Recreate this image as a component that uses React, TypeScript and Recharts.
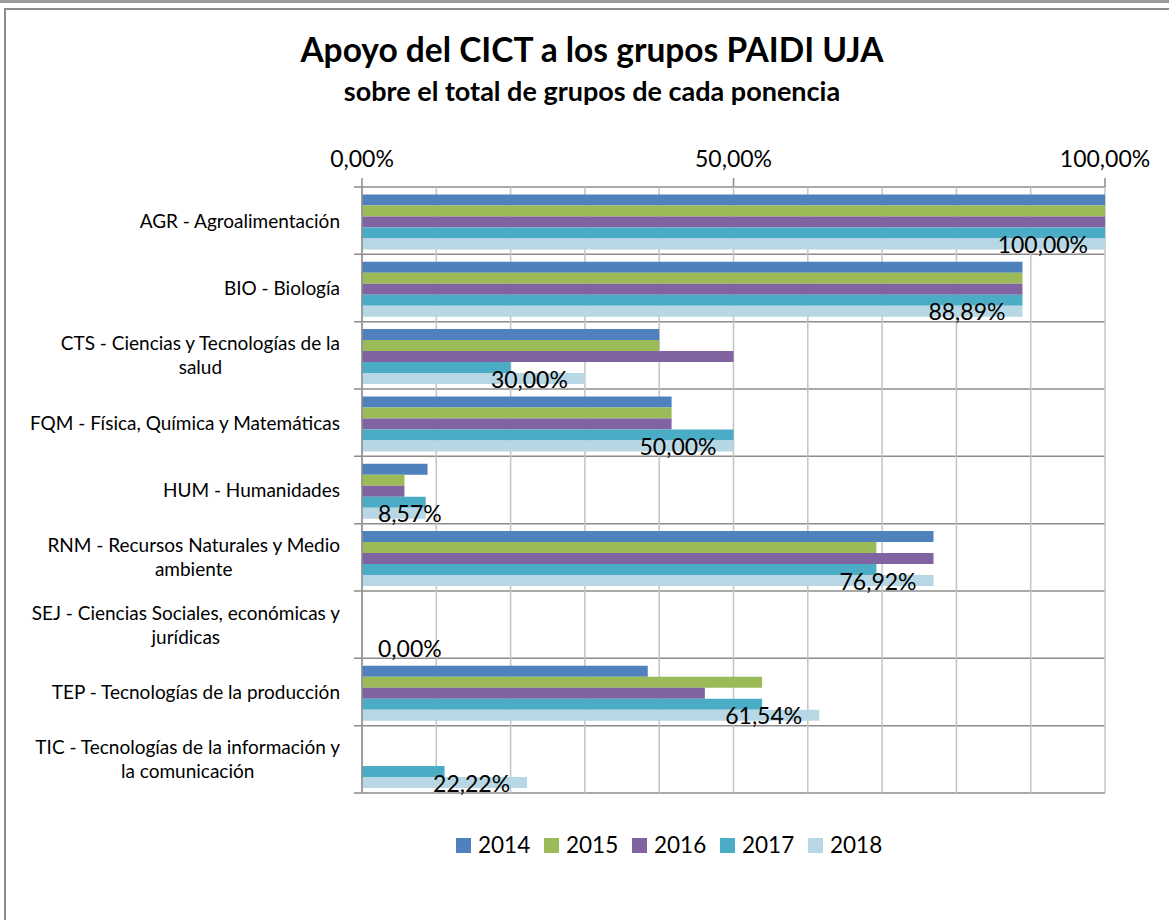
import { BarChart, Bar, XAxis, YAxis, CartesianGrid, LabelList } from 'recharts';

const categories = [
  'AGR - Agroalimentación',
  'BIO - Biología',
  'CTS - Ciencias y Tecnologías de la\nsalud',
  'FQM - Física, Química y Matemáticas',
  'HUM - Humanidades',
  'RNM - Recursos Naturales y Medio\nambiente',
  'SEJ - Ciencias Sociales, económicas y\njurídicas',
  'TEP - Tecnologías de la producción',
  'TIC - Tecnologías de la información y\nla comunicación',
];

const years = ['2014', '2015', '2016', '2017', '2018'];
const colors = ['#4F81BD', '#9BBB59', '#8064A2', '#4BACC6', '#B7D7E4'];

const v2014 = [1, 0.8889, 0.4, 0.4167, 0.0882, 0.7692, 0, 0.3846, 0];
const v2015 = [1, 0.8889, 0.4, 0.4167, 0.0571, 0.6923, 0, 0.5385, 0];
const v2016 = [1, 0.8889, 0.5, 0.4167, 0.0571, 0.7692, 0, 0.4615, 0];
const v2017 = [1, 0.8889, 0.2, 0.5, 0.0857, 0.6923, 0, 0.5385, 0.1111];
const v2018 = [1, 0.8889, 0.3, 0.5, 0.0857, 0.7692, 0, 0.6154, 0.2222];

const xTicks = [0, 0.5, 1];
const gridValues = [0, 0.1, 0.2, 0.3, 0.4, 0.5, 0.6, 0.7, 0.8, 0.9, 1];

const series = [v2014, v2015, v2016, v2017, v2018];
const data = categories.map((name, i) => {
  const row: Record<string, string | number> = { name };
  years.forEach((y, j) => {
    row[y] = series[j][i];
  });
  return row;
});

const FONT = 'Lato, "Open Sans", sans-serif';
const NUM_SIZE = 23;

const fmt = (v: number) => (v * 100).toFixed(2).replace('.', ',') + '%';

let ctx: CanvasRenderingContext2D | null = null;
const textWidth = (s: string, font: string) => {
  if (!ctx) ctx = document.createElement('canvas').getContext('2d');
  if (!ctx) return s.length * 11;
  ctx.font = font;
  return ctx.measureText(s).width;
};

const CatTick = ({ x, y, payload }: any) => (
  <foreignObject x={x - 340} y={y - 32} width={340} height={64}>
    <div
      style={{
        display: 'flex',
        height: '100%',
        alignItems: 'center',
        justifyContent: 'flex-end',
      }}
    >
      <div
        style={{
          textAlign: 'center',
          whiteSpace: 'pre-line',
          fontFamily: FONT,
          fontSize: 19,
          lineHeight: '24px',
          color: '#000',
        }}
      >
        {payload.value}
      </div>
    </div>
  </foreignObject>
);

const PctTick = ({ x, y, payload }: any) => (
  <text x={x} y={y} textAnchor="middle" fontFamily={FONT} fontSize={NUM_SIZE} fill="#000">
    {fmt(payload.value)}
  </text>
);

const BarLabel = (p: any) => {
  const vb = p.viewBox || {};
  const x = Number(p.x ?? vb.x);
  const y = Number(p.y ?? vb.y);
  const w = Number(p.width ?? vb.width ?? 0);
  const h = Number(p.height ?? vb.height ?? 0);
  const txt = fmt(Number(p.value));
  const tw = textWidth(txt, `${NUM_SIZE}px ${FONT}`);
  const fits = w - 17 - tw >= 16;
  return (
    <text
      x={fits ? x + w - 17 : x + 16}
      y={y + h / 2 + 9}
      textAnchor={fits ? 'end' : 'start'}
      fontFamily={FONT}
      fontSize={NUM_SIZE}
      fill="#000"
    >
      {txt}
    </text>
  );
};

const hLine = (props: any) => (
  <line
    key={props.key}
    x1={props.x1 - 8}
    x2={props.x2}
    y1={props.y1}
    y2={props.y2}
    stroke="#8c8c8c"
    strokeWidth={1.5}
  />
);

const vLine = (props: any) => (
  <line
    key={props.key}
    x1={props.x1}
    x2={props.x2}
    y1={props.y1}
    y2={props.y2}
    stroke="#c4c4c4"
    strokeWidth={1.5}
  />
);

export default function App() {
  return (
    <div style={{ position: 'absolute', left: 0, top: 0, width: 1169, height: 920, background: '#fff', overflow: 'hidden' }}>
      <div style={{ position: 'absolute', left: 0, top: 0, width: 1169, height: 3, background: '#9a9a9a' }} />
      <div
        style={{
          position: 'absolute',
          left: 4,
          top: 8,
          width: 1200,
          height: 940,
          border: '2px solid #8c8c8c',
        }}
      />
      <div style={{ position: 'absolute', left: 0, top: 0 }}>
        <BarChart
          width={1169}
          height={920}
          data={data}
          layout="vertical"
          barCategoryGap="11%"
          barGap={0}
          margin={{ top: 147, right: 64, bottom: 127, left: 12 }}
        >
          <CartesianGrid
            horizontal={hLine}
            vertical={vLine}
            verticalValues={gridValues}
            horizontalCoordinatesGenerator={({ offset }: any) =>
              categories.map((_, i) => offset.top + (offset.height / categories.length) * i).concat(offset.top + offset.height)
            }
          />
          <XAxis
            type="number"
            orientation="top"
            domain={[0, 1]}
            ticks={xTicks}
            height={40}
            axisLine={false}
            tickSize={9}
            tickMargin={11}
            tickLine={{ stroke: '#8c8c8c', strokeWidth: 1.5 }}
            tick={<PctTick />}
            interval={0}
          />
          <YAxis
            type="category"
            dataKey="name"
            width={350}
            tickSize={0}
            tickMargin={22}
            tickLine={false}
            axisLine={{ stroke: '#8c8c8c', strokeWidth: 1.5 }}
            tick={<CatTick />}
            interval={0}
          />
          {years.map((y, i) => (
            <Bar
              key={y}
              dataKey={y}
              fill={colors[i]}
              isAnimationActive={false}
              minPointSize={i === years.length - 1 ? 1 : 0}
            >
              {i === years.length - 1 && <LabelList dataKey={y} content={BarLabel} />}
            </Bar>
          ))}
        </BarChart>
      </div>
      <svg width={1169} height={920} style={{ position: 'absolute', left: 0, top: 0, pointerEvents: 'none' }}>
        <text x={592} y={62} textAnchor="middle" fontFamily={FONT} fontWeight={700} fontSize={33.5} fill="#000">
          Apoyo del CICT a los grupos PAIDI UJA
        </text>
        <text x={592} y={101} textAnchor="middle" fontFamily={FONT} fontWeight={700} fontSize={27} fill="#000">
          sobre el total de grupos de cada ponencia
        </text>
        {years.map((y, i) => (
          <g key={y}>
            <rect x={456 + i * 88} y={838} width={15} height={15} fill={colors[i]} />
            <text x={478 + i * 88} y={853} fontFamily={FONT} fontSize={22.5} fill="#000">
              {y}
            </text>
          </g>
        ))}
      </svg>
    </div>
  );
}
